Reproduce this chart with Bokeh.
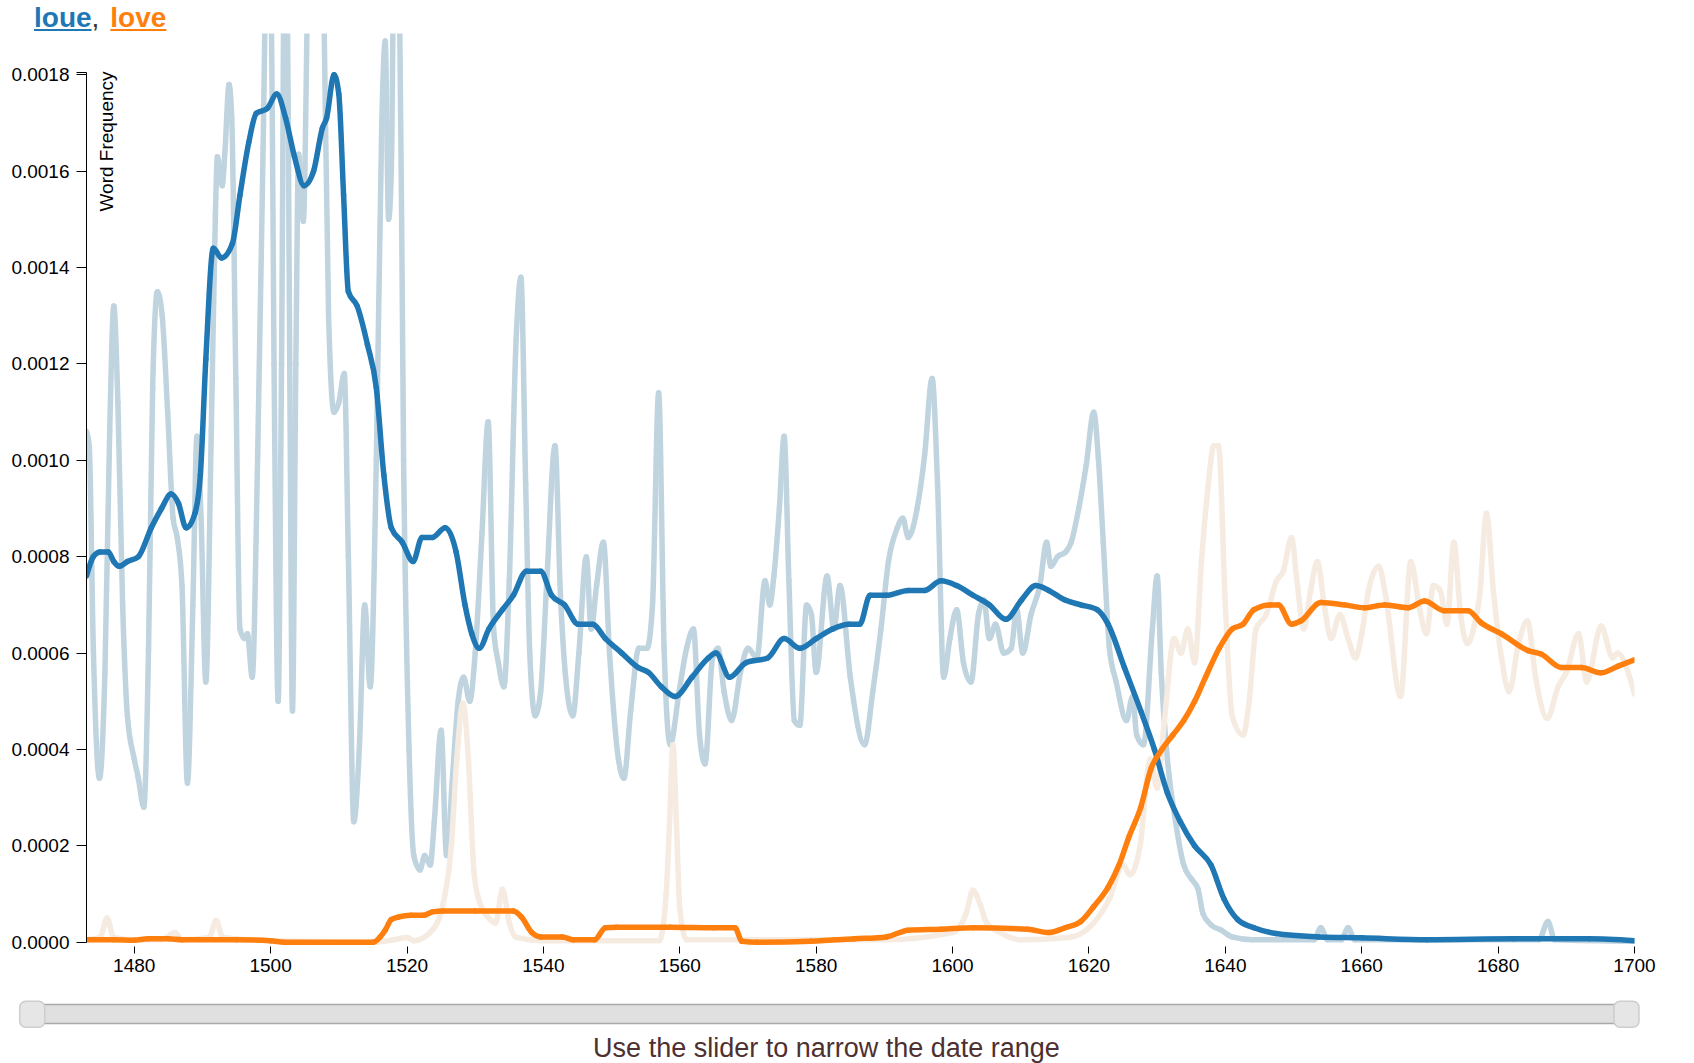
import math
from bokeh.plotting import figure
from bokeh.models import Range1d, FixedTicker, PrintfTickFormatter, Label, Div, ColumnDataSource
from bokeh.layouts import column
from bokeh.embed import file_html
from bokeh.resources import INLINE

SCALE = 1e-4  # values below are word frequencies x 1e-4

# ---- "loue" smoothed (dark blue) ----
loue_smooth_years = [1473, 1474, 1475, 1476.2, 1477, 1477.8, 1479, 1480.6, 1482.5, 1484, 1485.4, 1486.5, 1487.6,
                     1488.9, 1489.7, 1490.5, 1491.6, 1492.8, 1494.4, 1495.5, 1496.8, 1497.9, 1499.5, 1500.9, 1502.2,
                     1503.5, 1504.9, 1506.3, 1507.6, 1508.2, 1509.3, 1510, 1510.7, 1511.4, 1512.7, 1514.2, 1515.5,
                     1516.6, 1517.7, 1519.3, 1520.9, 1522.2, 1523.7, 1525.6, 1527.2, 1528.5, 1529.5, 1530.6, 1532,
                     1534, 1535.6, 1537.5, 1539.6, 1541.2, 1543.1, 1545.1, 1547.2, 1549.1, 1551.5, 1553.9, 1555.4,
                     1557.3, 1559.3, 1561.8, 1564.2, 1565.3, 1567.3, 1569.7, 1572.9, 1575.3, 1577.6, 1580, 1582.4,
                     1584.8, 1586.4, 1587.9, 1590.3, 1593.5, 1595.9, 1598.3, 1600.6, 1603, 1605.4, 1607.8, 1610.1,
                     1612.2, 1614.1, 1616.5, 1618.8, 1621.2, 1622.8, 1625.2, 1627.6, 1629.6, 1631.5, 1633.4, 1635.5,
                     1637.9, 1639.8, 1641.8, 1644.2, 1647.4, 1653.7, 1660, 1669.6, 1682.3, 1693.4, 1700]
loue_smooth_vals = [7.6, 8.0, 8.1, 8.1, 7.9, 7.8, 7.9, 8.0, 8.6, 9.0, 9.3, 9.1, 8.6,
                    8.9, 9.7, 12.1, 14.4, 14.2, 14.5, 15.5, 16.6, 17.2, 17.3, 17.6, 17.1,
                    16.3, 15.7, 16.0, 16.9, 17.1, 18.0, 17.6, 15.5, 13.5, 13.2, 12.4, 11.5,
                    9.7, 8.6, 8.3, 7.9, 8.4, 8.4, 8.6, 8.1, 7.0, 6.4, 6.1, 6.5,
                    6.9, 7.2, 7.7, 7.7, 7.2, 7.0, 6.6, 6.6, 6.3, 6.0, 5.7, 5.6,
                    5.3, 5.1, 5.5, 5.9, 6.0, 5.5, 5.8, 5.9, 6.3, 6.1, 6.3, 6.5,
                    6.6, 6.6, 7.2, 7.2, 7.3, 7.3, 7.5, 7.4, 7.2, 7.0, 6.7, 7.1,
                    7.4, 7.3, 7.1, 7.0, 6.9, 6.6, 5.7, 4.8, 4.0, 3.1, 2.5, 2.0,
                    1.6, 0.9, 0.47, 0.3, 0.18, 0.11, 0.09, 0.05, 0.07, 0.07, 0.03]

# ---- "love" smoothed (dark orange) ----
love_smooth_years = [1473, 1477, 1480, 1482, 1485, 1487, 1495, 1500, 1502, 1515, 1516, 1516.8, 1517.7, 1518.7,
                     1520.6, 1522.5, 1523.7, 1525.3, 1530, 1535.6, 1536.8, 1538.3, 1539.6, 1542.8, 1544.4, 1547.5,
                     1549.1, 1550.7, 1558.6, 1565, 1568.1, 1569.1, 1571.3, 1579.2, 1585.6, 1590.3, 1593.5, 1598.3,
                     1603, 1611, 1614.1, 1616.5, 1618.8, 1620.7, 1622.8, 1624.4, 1625.9, 1627.6, 1629.1, 1630.7,
                     1632.3, 1633.9, 1635.5, 1637.1, 1639.1, 1641, 1642.6, 1644.2, 1646.6, 1647.8, 1649.7, 1651.1,
                     1654, 1657.5, 1660.4, 1663.3, 1666.8, 1669.2, 1672.1, 1675.6, 1677.5, 1680.5, 1684.4, 1686.3,
                     1689.3, 1692.2, 1695.1, 1697.6, 1700]
love_smooth_vals = [0.05, 0.05, 0.04, 0.07, 0.07, 0.05, 0.05, 0.03, 0.0, 0.0, 0.1, 0.25, 0.47, 0.52,
                    0.56, 0.56, 0.63, 0.65, 0.65, 0.65, 0.52, 0.2, 0.11, 0.11, 0.05, 0.05,
                    0.3, 0.31, 0.31, 0.3, 0.3, 0.02, 0.0, 0.02, 0.07, 0.11, 0.25, 0.27,
                    0.3, 0.27, 0.2, 0.3, 0.43, 0.74, 1.14, 1.6, 2.2, 2.8, 3.6, 4.0,
                    4.3, 4.6, 5.0, 5.5, 6.1, 6.5, 6.6, 6.9, 7.0, 7.0, 6.6, 6.67,
                    7.05, 7.0, 6.94, 7.0, 6.94, 7.08, 6.88, 6.88, 6.63, 6.4, 6.05, 5.98,
                    5.7, 5.7, 5.59, 5.73, 5.86]

# ---- "loue" yearly (light blue) ----
loue_raw_years = [1473.0, 1473.4, 1474.0, 1474.9, 1475.7, 1476.4, 1477.0, 1477.6, 1478.3, 1479.0, 1480.0, 1480.6,
                  1481.4, 1482.1, 1482.7, 1483.4, 1484.1, 1484.9, 1485.7, 1486.3, 1487.0, 1487.8, 1488.6, 1489.2,
                  1489.8, 1490.5, 1491.3, 1491.9, 1492.2, 1492.9, 1493.3, 1493.9, 1494.3, 1494.9, 1495.5, 1496.2,
                  1496.6, 1497.3, 1498.1, 1498.9, 1499.8, 1500.5, 1501.1, 1501.6, 1502.2, 1502.8, 1503.2, 1503.7,
                  1504.1, 1504.8, 1505.4, 1506.5, 1507.8, 1508.5, 1509.3, 1510.0, 1510.8, 1511.4, 1512.2, 1513.0,
                  1513.8, 1514.6, 1515.5, 1516.3, 1516.8, 1517.3, 1517.7, 1518.2, 1518.8, 1519.5, 1520.3, 1521.0,
                  1521.9, 1522.6, 1523.4, 1524.0, 1525.0, 1525.8, 1526.7, 1527.5, 1528.3, 1529.2, 1530.0, 1531.0,
                  1531.9, 1532.7, 1533.4, 1534.2, 1535.0, 1536.0, 1536.7, 1537.4, 1538.0, 1538.8, 1539.6, 1540.5,
                  1541.7, 1542.5, 1543.2, 1544.3, 1545.2, 1546.3, 1547.0, 1547.8, 1548.8, 1549.7, 1551.0, 1551.8,
                  1552.8, 1554.0, 1555.2, 1556.0, 1556.9, 1557.7, 1558.6, 1559.9, 1561.0, 1562.0, 1562.9, 1563.7,
                  1564.8, 1565.6, 1566.5, 1567.6, 1568.9, 1570.0, 1571.3, 1572.5, 1573.2, 1573.8, 1574.6, 1575.3,
                  1576.0, 1576.8, 1577.6, 1578.6, 1579.3, 1580.0, 1581.6, 1582.6, 1583.5, 1585.0, 1587.1, 1588.3,
                  1589.5, 1590.6, 1591.9, 1592.7, 1593.5, 1594.8, 1595.9, 1597.0, 1597.8, 1598.7, 1599.6, 1600.6,
                  1601.6, 1602.7, 1603.8, 1604.6, 1605.4, 1606.3, 1607.5, 1608.6, 1609.4, 1610.3, 1611.5, 1612.8,
                  1613.8, 1614.4, 1615.4, 1616.6, 1617.4, 1618.5, 1619.6, 1620.7, 1621.4, 1622.1, 1623.0, 1624.0,
                  1625.5, 1626.4, 1627.0, 1628.0, 1629.3, 1630.0, 1630.6, 1631.5, 1632.7, 1633.9, 1635.1, 1636.0,
                  1636.7, 1637.9, 1639.4, 1641.0, 1644.0, 1653.0, 1654.0, 1655.0, 1657.0, 1658.0, 1659.0, 1686.0,
                  1687.3, 1688.3, 1700.0]
loue_raw_vals = [10.6, 10.3, 6.1, 3.4, 5.6, 10.6, 13.2, 11.2, 7.0, 4.7, 3.8, 3.4,
                 2.8, 6.1, 11.5, 13.5, 13.0, 11.0, 8.8, 8.4, 7.4, 3.3, 7.0, 10.5,
                 8.8, 5.4, 10.6, 15.1, 16.3, 15.7, 16.4, 17.8, 17.1, 11.7, 6.5, 6.3,
                 6.4, 5.5, 10.1, 16.5, 24.0, 12.0, 5.0, 12.0, 24.0, 12.0, 4.8, 12.0,
                 16.35, 14.96, 19.5, 28.0, 19.5, 13.0, 11.0, 11.2, 11.8, 8.0, 2.5, 4.0,
                 7.0, 5.3, 10.0, 17.0, 18.7, 15.0, 16.0, 22.0, 21.0, 10.0, 4.0, 1.8,
                 1.5, 1.8, 1.6, 2.5, 4.4, 1.8, 3.5, 5.0, 5.5, 5.0, 6.0, 8.5,
                 10.8, 6.5, 5.8, 5.3, 7.5, 12.5, 13.8, 9.5, 6.0, 4.7, 5.2, 7.5,
                 10.3, 7.2, 5.6, 4.7, 6.0, 8.0, 6.5, 7.4, 8.3, 6.0, 3.8, 3.4,
                 4.8, 6.1, 6.1, 7.0, 11.4, 6.1, 4.1, 5.2, 6.1, 6.5, 4.3, 3.7,
                 5.9, 6.1, 5.2, 4.6, 5.6, 6.1, 5.9, 7.5, 7.0, 7.6, 9.0, 10.5,
                 7.5, 4.6, 4.5, 7.0, 6.8, 5.6, 7.6, 6.5, 7.4, 5.5, 4.1, 5.2,
                 6.5, 7.9, 8.6, 8.8, 8.4, 9.0, 10.1, 11.7, 9.5, 5.5, 6.3, 6.9,
                 5.8, 5.4, 6.8, 7.1, 6.3, 6.6, 6.0, 6.1, 6.9, 6.0, 6.8, 7.4,
                 8.3, 7.8, 8.0, 8.1, 8.3, 9.0, 9.9, 11.0, 10.0, 8.3, 6.1, 5.4,
                 4.6, 5.1, 4.3, 4.1, 6.5, 7.6, 5.6, 3.8, 2.5, 1.6, 1.3, 1.1,
                 0.6, 0.36, 0.25, 0.11, 0.05, 0.05, 0.3, 0.05, 0.05, 0.3, 0.05, 0.05,
                 0.43, 0.05, 0.02]

# ---- "love" yearly (light orange) ----
love_raw_years = [1473, 1475, 1476, 1477, 1480, 1484, 1486, 1487, 1491, 1492, 1493, 1500, 1515, 1518, 1520, 1521,
                  1524, 1525.3, 1526.5, 1527.3, 1528.2, 1529, 1529.8, 1530.5, 1532, 1533, 1534, 1535, 1536, 1540,
                  1557, 1558, 1558.5, 1559, 1559.5, 1560, 1561, 1590, 1600, 1602, 1603, 1604, 1605, 1607, 1610,
                  1617, 1620, 1623, 1625, 1626, 1627.5, 1629, 1630, 1631, 1632.5, 1633.5, 1634.5, 1635.5, 1636.5,
                  1637.5, 1638.3, 1639, 1640, 1641, 1642.6, 1643.5, 1644.5, 1646, 1647.5, 1648.5, 1649.7, 1650.5,
                  1651.5, 1652.5, 1653.5, 1654.5, 1655.5, 1656.8, 1658, 1659.1, 1660, 1661, 1662.5, 1663.5, 1665.7,
                  1667.2, 1668.5, 1669.5, 1670.5, 1671.5, 1672.5, 1673.5, 1674.5, 1675.5, 1676.4, 1677.3, 1678.3,
                  1679.3, 1680.5, 1681.6, 1683, 1684.3, 1685.5, 1687.2, 1688.8, 1690, 1691.8, 1693, 1695.1, 1696.8,
                  1697.5, 1700]
love_raw_vals = [0.05, 0.1, 0.5, 0.1, 0.05, 0.05, 0.2, 0.05, 0.1, 0.45, 0.1, 0.03, 0.0, 0.05, 0.1, 0.03,
                 0.3, 0.8, 2.0, 3.8, 4.96, 3.8, 1.5, 0.9, 0.5, 0.4, 1.1, 0.4, 0.1, 0.03,
                 0.03, 1.0, 2.5, 4.1, 2.5, 0.7, 0.05, 0.05, 0.2, 0.6, 1.08, 0.8, 0.4, 0.2, 0.05,
                 0.1, 0.3, 0.9, 1.6, 1.4, 2.0, 3.8, 3.2, 4.5, 6.3, 6.0, 6.5, 5.8, 7.9,
                 9.5, 10.3, 10.3, 7.0, 4.7, 4.3, 5.0, 6.5, 6.8, 7.5, 7.7, 8.4, 7.5,
                 6.5, 7.3, 7.9, 7.0, 6.3, 6.8, 6.3, 5.9, 6.4, 7.3, 7.8, 7.2, 5.1,
                 7.9, 6.9, 6.4, 7.4, 7.3, 6.6, 8.3, 6.8, 6.2, 6.5, 7.2, 8.9,
                 7.3, 5.9, 5.2, 6.2, 6.67, 5.5, 4.64, 5.3, 5.6, 6.4, 5.4, 6.56, 5.9,
                 6.0, 5.15]

x_tick_years = [1480, 1500, 1520, 1540, 1560, 1580, 1600, 1620, 1640, 1660, 1680, 1700]
y_tick_vals = [0.0, 0.0002, 0.0004, 0.0006, 0.0008, 0.0010, 0.0012, 0.0014, 0.0016, 0.0018]
series_names = ["loue", "love"]

FONT = "Liberation Sans"
BLUE, ORANGE = "#1f77b4", "#ff7f0e"
LIGHT_BLUE, LIGHT_ORANGE = "#c0d4df", "#f5ebe1"

X_START, X_END = 1473, 1700
Y_TOP_DOMAIN = 0.001805
PAGE_W = 1694


def monotone_segments(xs, ys):
    """Cubic Bezier segments of a monotone-x curve through the data points (like d3.curveMonotoneX)."""
    n = len(xs)
    h = [xs[i + 1] - xs[i] for i in range(n - 1)]
    s = [(ys[i + 1] - ys[i]) / h[i] for i in range(n - 1)]
    t = [0.0] * n
    for i in range(1, n - 1):
        h0, h1, s0, s1 = h[i - 1], h[i], s[i - 1], s[i]
        pp = (s0 * h1 + s1 * h0) / (h0 + h1)
        sg = (1 if s0 > 0 else -1 if s0 < 0 else 0) + (1 if s1 > 0 else -1 if s1 < 0 else 0)
        t[i] = sg * min(abs(s0), abs(s1), 0.5 * abs(pp))
    t[0] = (3 * s[0] - t[1]) / 2 if n > 2 else s[0]
    t[-1] = (3 * s[-1] - t[-2]) / 2 if n > 2 else s[-1]
    seg = dict(x0=[], y0=[], x1=[], y1=[], cx0=[], cy0=[], cx1=[], cy1=[])
    for i in range(n - 1):
        dx = h[i] / 3
        seg["x0"].append(xs[i]); seg["y0"].append(ys[i])
        seg["x1"].append(xs[i + 1]); seg["y1"].append(ys[i + 1])
        seg["cx0"].append(xs[i] + dx); seg["cy0"].append(ys[i] + dx * t[i])
        seg["cx1"].append(xs[i + 1] - dx); seg["cy1"].append(ys[i + 1] - dx * t[i + 1])
    return ColumnDataSource(seg)


def sc(vals):
    return [v * SCALE for v in vals]


# ---------------- main chart ----------------
p = figure(width=PAGE_W, height=952, output_backend="svg", toolbar_location=None,
           x_range=Range1d(X_START, X_END), y_range=Range1d(-0.0000089, 0.0018857),
           min_border_left=86, min_border_right=60, min_border_top=0, min_border_bottom=39)
p.grid.visible = False
p.outline_line_color = None
p.background_fill_color = "white"
p.border_fill_color = "white"

for xs, ys, col in [(loue_raw_years, loue_raw_vals, LIGHT_BLUE),
                    (love_raw_years, love_raw_vals, LIGHT_ORANGE),
                    (loue_smooth_years, loue_smooth_vals, BLUE),
                    (love_smooth_years, love_smooth_vals, ORANGE)]:
    p.bezier(x0="x0", y0="y0", x1="x1", y1="y1", cx0="cx0", cy0="cy0", cx1="cx1", cy1="cy1",
             source=monotone_segments(xs, sc(ys)), line_width=5.5, line_color=col, line_cap="round")

ya = p.yaxis[0]
ya.ticker = FixedTicker(ticks=y_tick_vals, minor_ticks=[Y_TOP_DOMAIN])
ya.formatter = PrintfTickFormatter(format="%.4f")
ya.bounds = (0, Y_TOP_DOMAIN)
ya.major_tick_out = 10
ya.major_tick_in = 0
ya.minor_tick_out = 10
ya.minor_tick_in = 0
ya.minor_tick_line_color = "black"
ya.axis_line_color = "black"
ya.major_tick_line_color = "black"
ya.major_label_standoff = 7
ya.major_label_text_font = FONT
ya.major_label_text_font_size = "19px"
ya.major_label_text_color = "black"

xa = p.xaxis[0]
xa.ticker = FixedTicker(ticks=x_tick_years, minor_ticks=[])
xa.axis_line_color = None
xa.major_tick_out = 7
xa.major_tick_in = 0
xa.major_tick_line_color = "black"
xa.major_label_standoff = 5
xa.major_label_text_font = FONT
xa.major_label_text_font_size = "19px"
xa.major_label_text_color = "black"

p.add_layout(Label(x=X_START, y=0.001807, text="Word Frequency", angle=math.pi / 2,
                   text_align="right", text_baseline="top", x_offset=9,
                   text_font=FONT, text_font_size="19px", text_color="black"))
p.add_layout(Label(x=X_END, y=loue_raw_vals[-1] * SCALE, text=series_names[0], x_offset=7,
                   text_baseline="middle", text_font=FONT, text_font_size="19px", text_color="black"))
p.add_layout(Label(x=X_END, y=love_raw_vals[-1] * SCALE, text=series_names[1], x_offset=7,
                   text_baseline="middle", text_font=FONT, text_font_size="19px", text_color="black"))

# ---------------- title ----------------
title = Div(
    text=(f'<div style="font-family:\'{FONT}\',Arial,sans-serif;font-size:28px;line-height:30px;'
          f'padding-top:3px;padding-left:34px;white-space:nowrap;">'
          f'<span style="color:{BLUE};font-weight:bold;text-decoration:underline;">{series_names[0]}</span>'
          f'<span style="color:#333;">,</span>'
          f'<span style="color:{ORANGE};font-weight:bold;text-decoration:underline;margin-left:11px;">{series_names[1]}</span>'
          f'</div>'),
    width=PAGE_W, height=33, margin=(0, 0, 0, 0))

# ---------------- slider (date range) ----------------
S_H = 78
handle_left_px, handle_right_px = 31.7, 1626.0
k = (handle_right_px - handle_left_px) / (X_END - X_START)
s_start = X_START - handle_left_px / k
s_end = X_END + (PAGE_W - handle_right_px) / k
sp = figure(width=PAGE_W, height=S_H, output_backend="svg", toolbar_location=None,
            x_range=Range1d(s_start, s_end), y_range=Range1d(0, S_H),
            x_axis_type=None, y_axis_type=None, min_border=0,
            min_border_left=0, min_border_right=0, min_border_top=0, min_border_bottom=0)
sp.frame_align = False
sp.grid.visible = False
sp.outline_line_color = None
sp.background_fill_color = "white"
sp.border_fill_color = "white"
sp.quad(left=[X_START], right=[X_END], bottom=[40], top=[59],
        fill_color="#e0e0e0", line_color="#a8a8a8", line_width=1.5)
sp.rect(x=[X_START, X_END], y=[49.3, 49.3], width=25, height=26,
        width_units="screen", height_units="screen", border_radius=6,
        fill_color="#e6e6e6", line_color="#cdcdcd", line_width=1.5)
sp.add_layout(Label(x=s_start + 826 / k, y=15.5, text="Use the slider to narrow the date range",
                    text_align="center", text_baseline="middle",
                    text_font=FONT, text_font_size="27px", text_color="#4e3030"))

layout = column(title, p, sp, spacing=0)
open("out.html", "w").write(file_html(layout, INLINE))
